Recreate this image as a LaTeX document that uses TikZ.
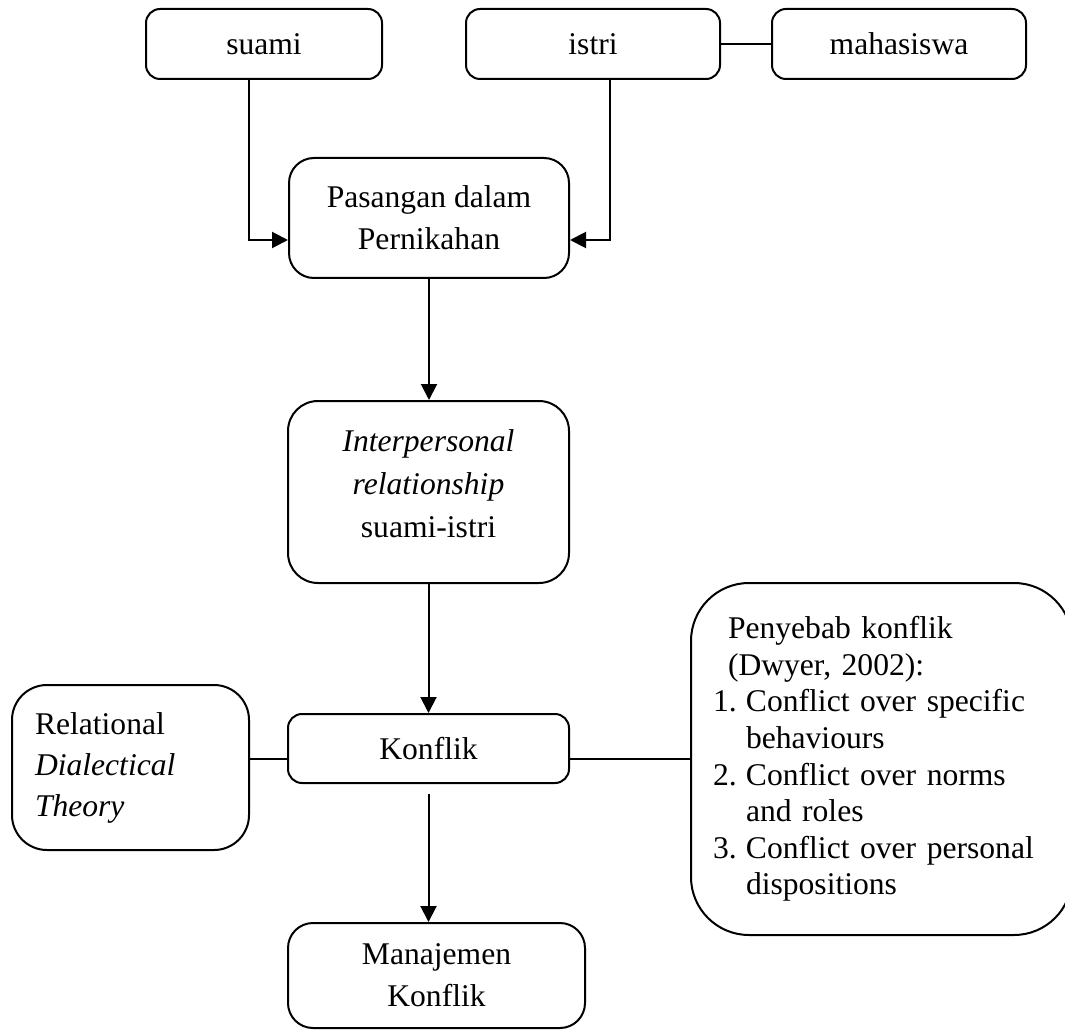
\documentclass[tikz,border=0pt]{standalone}
\usepackage{fontspec}
\setmainfont{Liberation Serif}
\usetikzlibrary{arrows.meta}
\begin{document}
\begin{tikzpicture}[x=1pt,y=-1pt,
  box/.style={draw, line width=2pt, rounded corners=#1, align=center, inner sep=0pt, font=\fontsize{31.6}{42}\selectfont},
  box/.default=14pt,
  conn/.style={line width=2pt},
  arr/.style={conn,-{Triangle[length=16pt,width=16pt]}},
  txt/.style={align=center, inner sep=0pt, font=\fontsize{31.6}{43}\selectfont}]
\clip (0,0) rectangle (1065,1032);
% top row
\node[box, minimum width=236pt, minimum height=70pt] (suami) at (264,44) {suami};
\node[box, minimum width=254pt, minimum height=70pt] (istri) at (593,44) {istri};
\node[box, minimum width=254pt, minimum height=70pt] (maha) at (899,44) {mahasiswa};
% middle column
\node[box=25pt, minimum width=280pt, minimum height=120pt] (pasangan) at (429,218) {Pasangan dalam\\Pernikahan};
\node[box=30pt, minimum width=281pt, minimum height=182pt] (interp) at (428.5,492) {};
\node[txt] (interptxt) at (428.5,483.5) {\textit{Interpersonal}\\\textit{relationship}\\suami-istri};
\node[box, minimum width=281pt, minimum height=69pt] (konflik) at (428.5,748.5) {Konflik};
\node[box=25pt, minimum width=297pt, minimum height=105pt] (manaj) at (436.5,975.5) {Manajemen\\Konflik};
% side boxes
\node[box=35pt, minimum width=237pt, minimum height=165pt, text width=191pt, inner xsep=23pt, align=left, font=\fontsize{31.6}{41}\selectfont] (rdt) at (130.5,767.5) {Relational\\\textit{Dialectical}\\\textit{Theory}};
\node[box=58pt, minimum width=381pt, minimum height=352pt, text width=337pt, inner xsep=22pt, align=left, font=\fontsize{31.6}{36.6}\selectfont] (sebab) at (881.5,759) {\hspace*{15pt}Penyebab konflik\\\hspace*{15pt}(Dwyer, 2002):\\\makebox[33pt][l]{1.}Conflict over specific\\\hspace*{33pt}behaviours\\\makebox[33pt][l]{2.}Conflict over norms\\\hspace*{33pt}and roles\\\makebox[33pt][l]{3.}Conflict over personal\\\hspace*{33pt}dispositions};
% connectors
\draw[conn] (istri.east) -- (maha.west);
\draw[arr] ([xshift=-15pt]suami.south) |- ([yshift=-22pt]pasangan.west);
\draw[arr] ([xshift=17pt]istri.south) |- ([yshift=-22pt]pasangan.east);
\draw[arr] (pasangan.south) -- (pasangan.south |- interp.north);
\draw[arr] (interp.south) -- (interp.south |- konflik.north);
\draw[arr] ([yshift=-10pt]konflik.south) -- (konflik.south |- manaj.north);
\draw[conn] ([yshift=-10.5pt]konflik.west) -- ([yshift=-10.5pt]konflik.west -| rdt.east);
\draw[conn] ([yshift=-10.5pt]konflik.east) -- ([yshift=-10.5pt]konflik.east -| sebab.west);
\end{tikzpicture}
\end{document}
